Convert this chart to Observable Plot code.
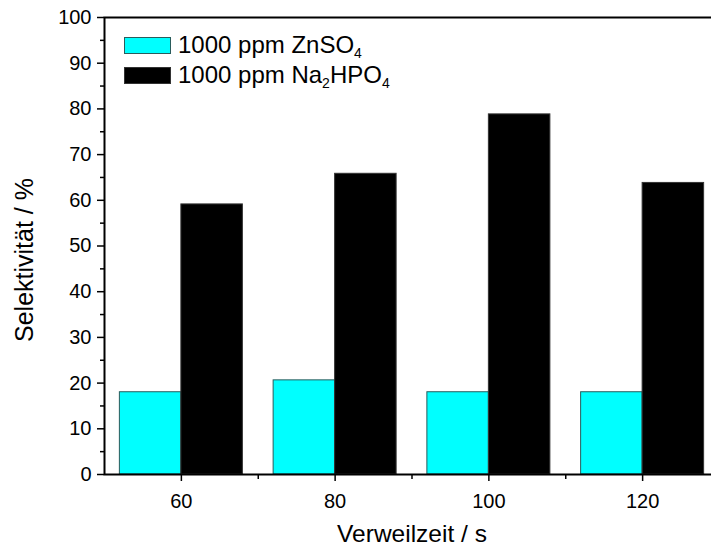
<!DOCTYPE html>
<html>
<head>
<meta charset="utf-8">
<script src="https://cdn.jsdelivr.net/npm/d3@7"></script>
<script src="https://cdn.jsdelivr.net/npm/@observablehq/plot@0.6"></script>
<style>
  html, body { margin: 0; padding: 0; background: #fff; overflow: hidden; }
  #wrap { position: relative; width: 711px; height: 546px; overflow: hidden; }
  #chart svg { max-width: none !important; }
  #legend { position: absolute; left: 124px; top: 30px; font-family: "Liberation Sans", Arial, sans-serif; font-size: 24px; color: #000; }
  .row { display: flex; align-items: center; height: 30px; }
  .sw { width: 47px; height: 17px; box-sizing: border-box; margin-right: 7px; flex: none; }
  .row span { white-space: nowrap; }
  sub { font-size: 14px; vertical-align: -5px; line-height: 0; }
</style>
</head>
<body>
<div id="wrap"><div id="chart"></div><div id="legend"></div></div>
<script>
const times = [60, 80, 100, 120];
const znso4 = [18.0, 20.6, 18.0, 18.0];
const na2hpo4 = [59.1, 65.8, 78.8, 63.8];
const seriesNames = ["1000 ppm ZnSO<sub>4</sub>", "1000 ppm Na<sub>2</sub>HPO<sub>4</sub>"];
const seriesFill = ["#00ffff", "#000000"];
const seriesStroke = ["#2a5c5c", "#333333"];
const majorX = [60, 80, 100, 120];
const minorX = [70, 90, 110];
const majorY = [0, 10, 20, 30, 40, 50, 60, 70, 80, 90, 100];
const minorY = [5, 15, 25, 35, 45, 55, 65, 75, 85, 95];
const barWidth = 8;

const rows = [];
times.forEach((t, i) => {
  rows.push({t, v: znso4[i], s: 0});
  rows.push({t, v: na2hpo4[i], s: 1});
});

const font = "Liberation Sans, Arial, sans-serif";
const plot = Plot.plot({
  width: 720,
  height: 546,
  marginLeft: 104,
  marginRight: 1,
  marginTop: 17,
  marginBottom: 72,
  style: {fontFamily: font, fontSize: "20px", color: "#000", background: "#fff", maxWidth: "none"},
  x: {domain: [50, 130]},
  y: {domain: [0, 100]},
  marks: [
    Plot.rect(rows, {
      x1: d => d.s === 0 ? d.t - barWidth : d.t,
      x2: d => d.s === 0 ? d.t : d.t + barWidth,
      y1: 0,
      y2: "v",
      fill: d => seriesFill[d.s],
      stroke: d => seriesStroke[d.s],
      strokeWidth: 1,
      inset: 0
    }),
    Plot.axisY(majorY, {tickSize: 7, tickPadding: 6, strokeWidth: 1.5, fontSize: 20, label: null}),
    Plot.axisY(minorY, {tickSize: 4, strokeWidth: 1.5, text: null, label: null}),
    Plot.axisX(majorX, {tickSize: 7, tickPadding: 12, strokeWidth: 1.5, fontSize: 20, label: null}),
    Plot.axisX(minorX, {tickSize: 5, strokeWidth: 1.5, text: null, label: null}),
    Plot.frame({stroke: "#000", strokeWidth: 2}),
    Plot.text(["Verweilzeit / s"], {frameAnchor: "bottom", dy: 67, lineAnchor: "bottom", fontSize: 24.5, text: d => d}),
    Plot.text(["Selektivität / %"], {frameAnchor: "left", dx: -80, dy: 14, rotate: -90, textAnchor: "middle", fontSize: 25, text: d => d})
  ]
});
document.getElementById("chart").appendChild(plot);

const legend = d3.select("#legend");
seriesNames.forEach((name, i) => {
  const row = legend.append("div").attr("class", "row");
  row.append("div").attr("class", "sw")
    .style("background", seriesFill[i])
    .style("border", `1px solid ${seriesStroke[i]}`);
  row.append("span").html(name);
});
</script>
</body>
</html>
